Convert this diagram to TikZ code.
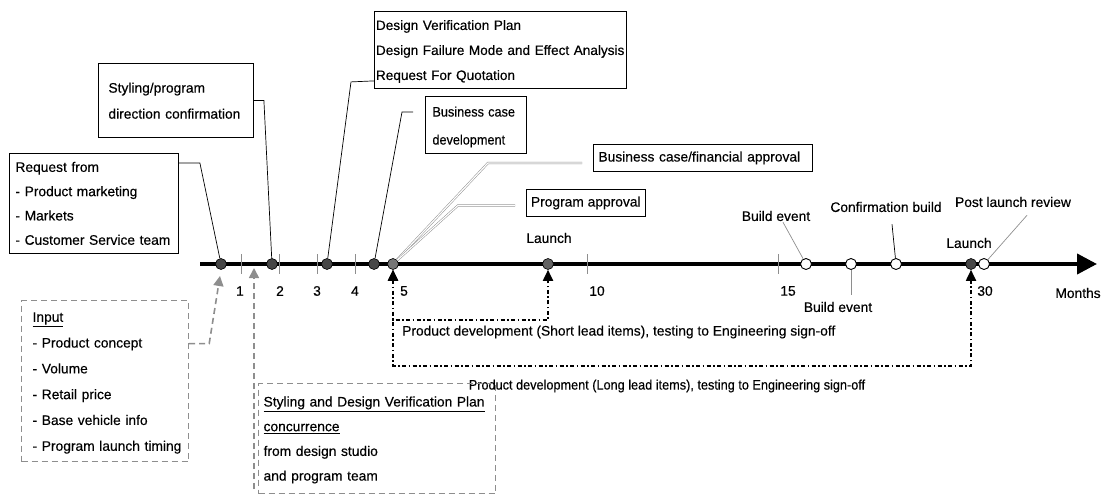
\documentclass[tikz,border=0pt]{standalone}
\usepackage{graphicx}
\usepackage{fontspec}
\setmainfont{Liberation Sans}[FakeBold=0.35]
\usetikzlibrary{arrows.meta,calc}
\definecolor{dotfill}{HTML}{474747}
\definecolor{dotlight}{HTML}{767676}
\definecolor{leadgray}{HTML}{8E8E8E}
% font sizes with a chosen line pitch
\newcommand{\txtsize}[1]{\fontsize{13.8}{#1}\selectfont}
\newcommand{\dvpsize}[1]{\fontsize{13.6}{#1}\selectfont}
% horizontally condensed text
\newcommand{\condensed}[1]{\scalebox{0.92}[1]{#1}}
% stacked lines that never wrap
\newcommand{\stack}[1]{\begin{tabular}{@{}l@{}}#1\end{tabular}}
\begin{document}
\begin{tikzpicture}[x=1pt,y=-1pt,
  lbl/.style={font=\txtsize{16}, inner sep=0pt},
  solidbox/.style={draw=black, line width=0.9pt, anchor=north west, align=left, inner ysep=0pt},
  dashbox/.style={draw=leadgray, line width=1.2pt, dash pattern=on 6pt off 4pt, anchor=north west, align=left, inner ysep=0pt},
  leader/.style={black, line width=0.7pt},
  softleader/.style={leadgray, line width=0.7pt},
  dbl/.style={draw=leadgray, line width=0.5pt, double=white, double distance=1.2pt},
  evdot/.style={circle, draw=black, fill=dotfill, line width=0.6pt, minimum size=11pt, inner sep=0pt},
  opendot/.style={circle, draw=black, fill=white, line width=0.9pt, minimum size=11pt, inner sep=0pt},
  tickmark/.style={leadgray, line width=0.6pt},
  spanarrow/.style={black, line width=1.8pt, dash pattern=on 4pt off 2.5pt on 1.5pt off 2.5pt,
    {Triangle[length=11pt,width=10pt]}-{Triangle[length=11pt,width=10pt]}},
  inarrow/.style={leadgray, line width=1.6pt, dash pattern=on 6pt off 4pt,
    -{Triangle[length=10pt,width=10pt]}}
]
\useasboundingbox (0,0) rectangle (1102,497);

% ---- time axis ----
\coordinate (tlstart) at (200,264);
\coordinate (tlend) at (1097,264);
\draw[line width=4pt, -{Triangle[length=20pt,width=20pt]}] (tlstart) -- (tlend);

% month ticks
\foreach \tx in {241,279,317,355,587,778}
  \draw[tickmark] (\tx,254) -- (\tx,274);

% month numbers
\node[lbl] (m1)  at (240,291) {1};
\node[lbl] (m2)  at (280,291) {2};
\node[lbl] (m3)  at (317,291) {3};
\node[lbl] (m4)  at (355,291) {4};
\node[lbl] (m5)  at (404,291) {5};
\node[lbl] (m10) at (597,291) {10};
\node[lbl] (m15) at (788,291) {15};
\node[lbl] (m30) at (985,291) {30};
\node[lbl] (months) at (1078,293) {Months};

% ---- milestone dots ----
\node[evdot] (c1) at (221,264) {};
\node[evdot] (c2) at (272,264) {};
\node[evdot] (c3) at (327,264) {};
\node[evdot] (c4) at (374,264) {};
\node[evdot, fill=dotlight] (c5) at (393,264) {};
\node[evdot, fill=dotfill!85] (c6) at (548,264) {};
\node[opendot] (o1) at (806,264) {};
\node[opendot] (o2) at (851,264) {};
\node[opendot] (o3) at (896,264) {};
\node[evdot] (c7) at (971,264) {};
\node[opendot] (o4) at (984,264) {};

% ---- boxed notes above the axis ----
\node[solidbox, font=\txtsize{24.3}, inner xsep=6pt, text width=157pt, minimum height=100pt]
  (req) at (9,153) {\stack{Request from\\- Product marketing\\- Markets\\- Customer Service team}};
\node[solidbox, font=\txtsize{26}, inner xsep=10pt, text width=135pt, minimum height=74pt]
  (sty) at (98,63) {\stack{Styling/program\\direction confirmation}};
\node[solidbox, font=\dvpsize{25}, inner xsep=1.5pt, text width=249pt, minimum height=77pt]
  (dvp) at (374,11) {\stack{Design Verification Plan\\Design Failure Mode and Effect Analysis\\Request For Quotation}};
\node[solidbox, font=\txtsize{28}, inner xsep=7pt, text width=87pt, minimum height=57pt]
  (bus) at (425,96) {\stack{\condensed{Business case}\\\condensed{development}}};
\node[solidbox, font=\txtsize{16}, inner xsep=5pt, text width=209pt, minimum height=27pt]
  (bfa) at (593,144) {Business case/financial approval};
\node[solidbox, font=\txtsize{16}, inner xsep=4.5pt, minimum height=27pt]
  (pa) at (526,189) {Program approval};

% leaders from the notes to the axis
\draw[leader] ([yshift=-10pt]req.north east) -- ++(21,0) -- (c1);
\draw[leader] (sty.east) -- ++(10,0) -- (c2);
\draw[leader] ([yshift=8pt]dvp.south west) -- ++(-23,1) -- (c3);
\draw[leader] ([xshift=-12pt,yshift=-16pt]bus.north west) -- ++(-11,0) -- (c4);
\draw[dbl] ([xshift=-11pt,yshift=-5pt]bfa.west) -- ++(-94,0) -- (c5);
\draw[dbl] ([xshift=-11pt,yshift=-2.5pt]pa.west) -- ++(-57,0) -- (c5);

% ---- event labels ----
\node[lbl] (l1) at (549,238) {Launch};
\node[lbl] (l2) at (969,243) {Launch};
\node[lbl] (be1) at (776,216) {Build event};
\node[lbl] (cb) at (886,207) {Confirmation build};
\node[lbl] (plr) at (1013,202) {Post launch review};
\node[lbl] (be2) at (838,307) {Build event};

\draw[softleader] ([xshift=7pt,yshift=-1pt]be1.south) -- (o1);
\draw[leader] ([xshift=6pt,yshift=-12pt]cb.south) -- (o3);
\draw[softleader] ([xshift=14pt,yshift=-8pt]plr.south) -- (o4);
\draw[softleader] (o2) -- ++(0,31);

% ---- development spans ----
\draw[spanarrow] (c5.south) -- ++(0,50) -| (c6.south);
\draw[spanarrow] (c5.south) -- ++(0,96) -| (c7.south);
\node[lbl, anchor=west] (short) at (402,332)
  {Product development (Short lead items), testing to Engineering sign-off};
\node[lbl] (long) at (667,386)
  {\condensed{Product development (Long lead items), testing to Engineering sign-off}};

% ---- inputs below the axis ----
\node[dashbox, font=\txtsize{25.8}, inner xsep=11pt, text width=145pt, minimum height=161pt]
  (inp) at (21,300) {\stack{\underline{Input}\\- Product concept\\- Volume\\- Retail price\\- Base vehicle info\\- Program launch timing}};
\node[dashbox, font=\txtsize{24.7}, inner xsep=5pt, text width=227pt, minimum height=110pt]
  (sdvp) at (258,383) {\stack{\underline{Styling and Design Verification Plan}\\\underline{concurrence}\\from design studio\\and program team}};

\coordinate (inTip) at (220,276);
\coordinate (sdTip) at (254,268);
\draw[inarrow] ([yshift=37.5pt]inp.east) -- ++(20,0) -- (inTip);
\draw[inarrow] ([xshift=-4pt,yshift=5pt]sdvp.south west) -- (sdTip);
\end{tikzpicture}
\end{document}
